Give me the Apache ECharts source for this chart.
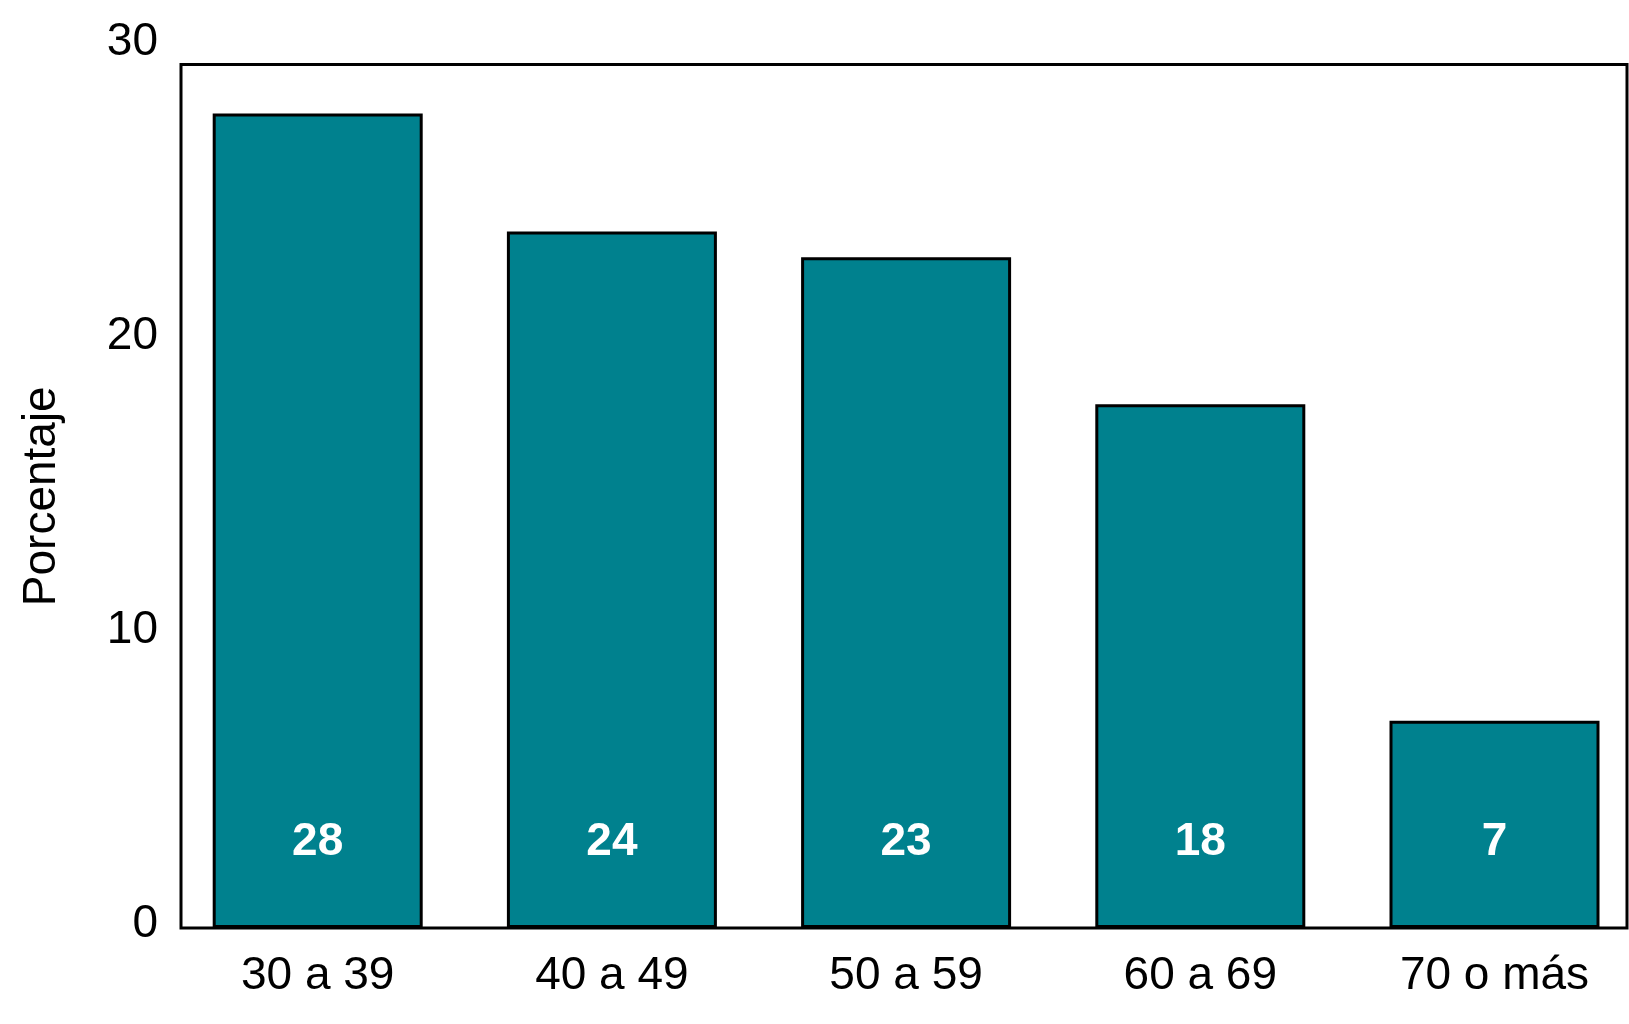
<!DOCTYPE html>
<html>
<head>
<meta charset="utf-8">
<script src="https://cdn.jsdelivr.net/npm/echarts@6/dist/echarts.min.js"></script>
<style>
html,body{margin:0;padding:0;background:#fff;}
#chart{width:1629px;height:1024px;}
</style>
</head>
<body>
<div id="chart"></div>
<script>
const categories = ['30 a 39', '40 a 49', '50 a 59', '60 a 69', '70 o más'];
const values = [28.3, 24.2, 23.3, 18.2, 7.2];
const yTicks = [0, 10, 20, 30];
const yAxisName = 'Porcentaje';

const FONT = "'Liberation Sans', Arial, Helvetica, sans-serif";
const chart = echarts.init(document.getElementById('chart'), null, {renderer: 'canvas'});

chart.setOption({
  animation: false,
  backgroundColor: '#ffffff',
  grid: [
    // frame
    {left: 181, right: 2, top: 64.5, bottom: 96, show: true, borderColor: '#000', borderWidth: 3, backgroundColor: 'transparent', z: 1},
    // bars (category points at bar centres)
    {left: 317.7, right: 134.5, top: 64.5, bottom: 96, show: false},
    // tick labels
    {left: 181, right: 2, top: 42.5, bottom: 99.5, show: false}
  ],
  xAxis: [
    {gridIndex: 0, type: 'value', show: false},
    {gridIndex: 1, type: 'category', data: categories, boundaryGap: false,
      axisLine: {show: false}, axisTick: {show: false}, splitLine: {show: false},
      axisLabel: {color: '#000', fontFamily: FONT, fontSize: 46, margin: 25}},
    {gridIndex: 2, type: 'value', show: false}
  ],
  yAxis: [
    {gridIndex: 0, type: 'value', min: 0, max: 30,
      axisLine: {show: false}, axisTick: {show: false}, splitLine: {show: false}, axisLabel: {show: false},
      name: yAxisName, nameLocation: 'middle', nameGap: 116, nameRotate: 90,
      nameTextStyle: {color: '#000', fontFamily: FONT, fontSize: 46}},
    {gridIndex: 1, type: 'value', show: false, min: 0, max: 30},
    {gridIndex: 2, type: 'value', min: yTicks[0], max: yTicks[yTicks.length - 1], interval: 10,
      axisLine: {show: false}, axisTick: {show: false}, splitLine: {show: false},
      axisLabel: {color: '#000', fontFamily: FONT, fontSize: 46, margin: 23}}
  ],
  series: [{
    type: 'bar',
    xAxisIndex: 1,
    yAxisIndex: 1,
    data: values,
    barWidth: 210,
    clip: false,
    itemStyle: {color: '#00818e', borderColor: '#000', borderWidth: 3},
    label: {
      show: true,
      position: 'insideBottom',
      distance: 63,
      color: '#fff',
      fontFamily: FONT,
      fontWeight: 'bold',
      fontSize: 46,
      formatter: p => String(Math.round(p.value))
    },
    z: 3
  }]
});
</script>
</body>
</html>
